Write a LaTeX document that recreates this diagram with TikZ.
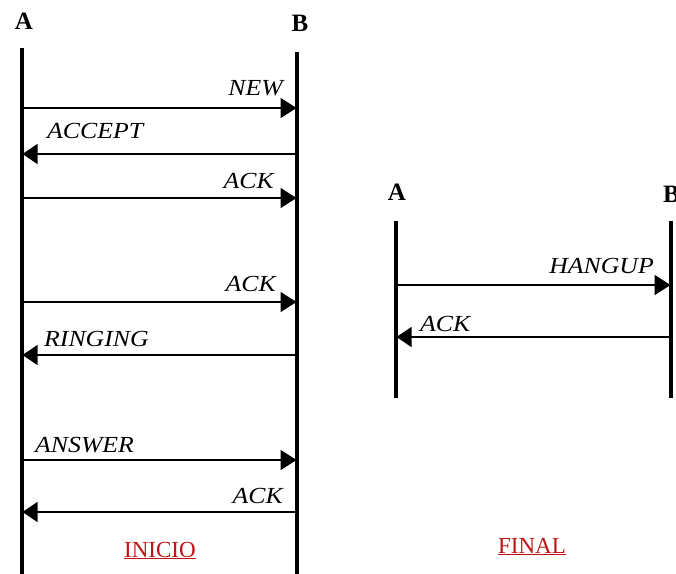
\documentclass[tikz,border=0pt]{standalone}
\usepackage{fontspec}
\setmainfont{Liberation Serif}
\newfontfamily\msgfont[FakeStretch=1.12]{Liberation Serif}
\usetikzlibrary{arrows.meta}
\definecolor{titlered}{RGB}{190,20,20}
\tikzset{
  lifeline/.style={line width=3.2pt},
  party/.style={font=\fontsize{25}{25}\selectfont\bfseries, inner sep=0pt},
  msgright/.style={line width=1.8pt, -{Triangle[length=16pt,width=20pt]}, shorten >=0.5pt},
  msgleft/.style={line width=1.1pt, -{Triangle[length=15pt,width=20pt]}, shorten >=0.5pt},
  msglabel/.style={font=\msgfont\fontsize{23}{23}\selectfont\itshape, inner sep=0pt},
  phase/.style={font=\fontsize{23}{23}\selectfont, text=titlered, inner sep=0pt}
}
\begin{document}
\begin{tikzpicture}[x=1pt,y=-1pt]
\useasboundingbox (0,0) rectangle (676,573);

% --- call set-up (left) ---
\node[party, anchor=base] (lA) at (24,29) {A};
\node[party, anchor=base] (lB) at (300,31) {B};
\coordinate (lAtop) at (22,48);
\coordinate (lAbot) at (22,576);
\coordinate (lBtop) at (297,52);
\coordinate (lBbot) at (297,576);
\draw[lifeline] (lAtop) -- (lAbot);
\draw[lifeline] (lBtop) -- (lBbot);

\coordinate (a1) at (22,108);  \coordinate (b1) at (297,108);
\coordinate (a2) at (22,154);  \coordinate (b2) at (297,154);
\coordinate (a3) at (22,198);  \coordinate (b3) at (297,198);
\coordinate (a4) at (22,302);  \coordinate (b4) at (297,302);
\coordinate (a5) at (22,355);  \coordinate (b5) at (297,355);
\coordinate (a6) at (22,460);  \coordinate (b6) at (297,460);
\coordinate (a7) at (22,512);  \coordinate (b7) at (297,512);

\draw[msgright] (a1) -- (b1);
\draw[msgleft]  (b2) -- (a2);
\draw[msgright] (a3) -- (b3);
\draw[msgright] (a4) -- (b4);
\draw[msgleft]  (b5) -- (a5);
\draw[msgright] (a6) -- (b6);
\draw[msgleft]  (b7) -- (a7);

\node[msglabel, anchor=base east] (t1) at (283,95)  {NEW};
\node[msglabel, anchor=base west] (t2) at (47,138)  {ACCEPT};
\node[msglabel, anchor=base east] (t3) at (274,188) {ACK};
\node[msglabel, anchor=base east] (t4) at (276,291) {ACK};
\node[msglabel, anchor=base west] (t5) at (44,346)  {RINGING};
\node[msglabel, anchor=base west] (t6) at (35,452)  {ANSWER};
\node[msglabel, anchor=base east] (t7) at (283,503) {ACK};

\node[phase, anchor=base] (inicio) at (160,557) {\underline{INICIO}};

% --- call tear-down (right) ---
\node[party, anchor=base] (rA) at (397,200) {A};
\node[party, anchor=base west] (rB) at (663,202) {B};
\coordinate (rAtop) at (396,221);
\coordinate (rAbot) at (396,398);
\coordinate (rBtop) at (671,221);
\coordinate (rBbot) at (671,398);
\draw[lifeline] (rAtop) -- (rAbot);
\draw[lifeline] (rBtop) -- (rBbot);

\coordinate (ra1) at (396,285); \coordinate (rb1) at (671,285);
\coordinate (ra2) at (396,337); \coordinate (rb2) at (671,337);
\draw[msgright] (ra1) -- (rb1);
\draw[msgleft]  (rb2) -- (ra2);

\node[msglabel, anchor=base east] (h1) at (654,273) {HANGUP};
\node[msglabel, anchor=base west] (h2) at (420,331) {ACK};

\node[phase, anchor=base] (final) at (532,553) {\underline{FINAL}};
\end{tikzpicture}
\end{document}
